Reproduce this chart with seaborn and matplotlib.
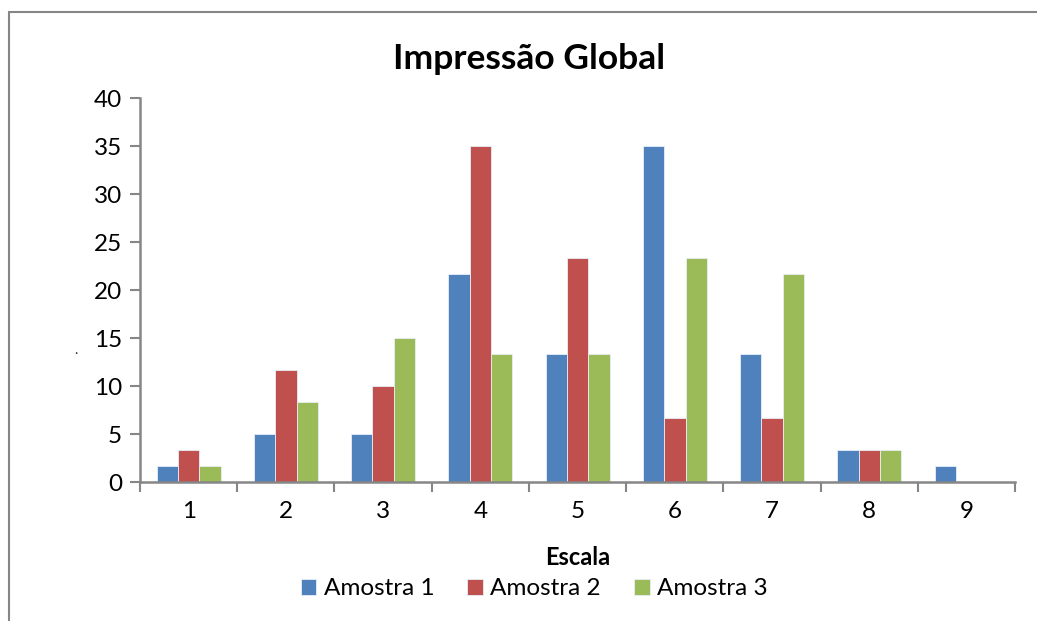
import numpy as np
import pandas as pd
import matplotlib
matplotlib.use("Agg")
import matplotlib.pyplot as plt
import seaborn as sns
from matplotlib.ticker import FixedLocator

# Dados (percentagem por ponto da escala)
escala = ["1", "2", "3", "4", "5", "6", "7", "8", "9"]
amostra_1 = [1.67, 5.0, 5.0, 21.67, 13.33, 35.0, 13.33, 3.33, 1.67]
amostra_2 = [3.33, 11.67, 10.0, 35.0, 23.33, 6.67, 6.67, 3.33, 0.0]
amostra_3 = [1.67, 8.33, 15.0, 13.33, 13.33, 23.33, 21.67, 3.33, 0.0]
series = ["Amostra 1", "Amostra 2", "Amostra 3"]
cores = ["#4F81BD", "#C0504D", "#9BBB59"]

df = pd.DataFrame({"Escala": escala, "Amostra 1": amostra_1,
                   "Amostra 2": amostra_2, "Amostra 3": amostra_3})
df_long = df.melt(id_vars="Escala", var_name="Amostra", value_name="Valor")

sns.set_style("white")
plt.rcParams["font.family"] = ["Lato", "DejaVu Sans"]

fig = plt.figure(figsize=(10.37, 6.21), dpi=100)
ax = fig.add_axes([0.135, 0.2238, 0.844, 0.6182])

sns.barplot(data=df_long, x="Escala", y="Valor", hue="Amostra",
            palette=cores, width=0.66, gap=0, saturation=1,
            edgecolor="#e8eef7", linewidth=0.6, ax=ax, legend=True)

ax.set_xlim(-0.5, 8.5)
ax.set_ylim(0, 40)
ax.set_yticks(np.arange(0, 41, 5))
ax.tick_params(axis="y", labelsize=17.5, length=7, width=1.5, color="#868686",
               direction="out", left=True, pad=6, labelcolor="black")
ax.tick_params(axis="x", which="major", labelsize=17.5, length=0, pad=14,
               labelcolor="black")
ax.xaxis.set_minor_locator(FixedLocator(np.arange(-0.5, 9, 1)))
ax.tick_params(axis="x", which="minor", length=7, width=1.5, color="#868686",
               direction="out", bottom=True)

for lado in ["top", "right"]:
    ax.spines[lado].set_visible(False)
for lado in ["left", "bottom"]:
    ax.spines[lado].set_color("#868686")
    ax.spines[lado].set_linewidth(1.8)

ax.set_xlabel("Escala", fontsize=17, fontweight="bold", labelpad=17,
              color="black")
ax.set_ylabel("")
fig.text(0.51, 0.905, "Impressão Global", ha="center", va="center",
         fontsize=25.5, fontweight="bold", color="black")
fig.text(0.072, 0.43, ".", fontsize=10)

handles, labels = ax.get_legend_handles_labels()
ax.get_legend().remove()
fig.legend(handles, labels, loc="center", bbox_to_anchor=(0.515, 0.052),
           ncol=3, frameon=False, fontsize=17.5, handlelength=0.65,
           handleheight=0.65, handletextpad=0.3, columnspacing=1.35,
           labelcolor="black")

# Moldura do gráfico
fig.add_artist(plt.Rectangle((9 / 1037, -0.1), 1.2, 1 - 12 / 621 + 0.1,
                             transform=fig.transFigure, fill=False,
                             edgecolor="#868686", linewidth=1.5))

fig.savefig("out.png", dpi=100)
